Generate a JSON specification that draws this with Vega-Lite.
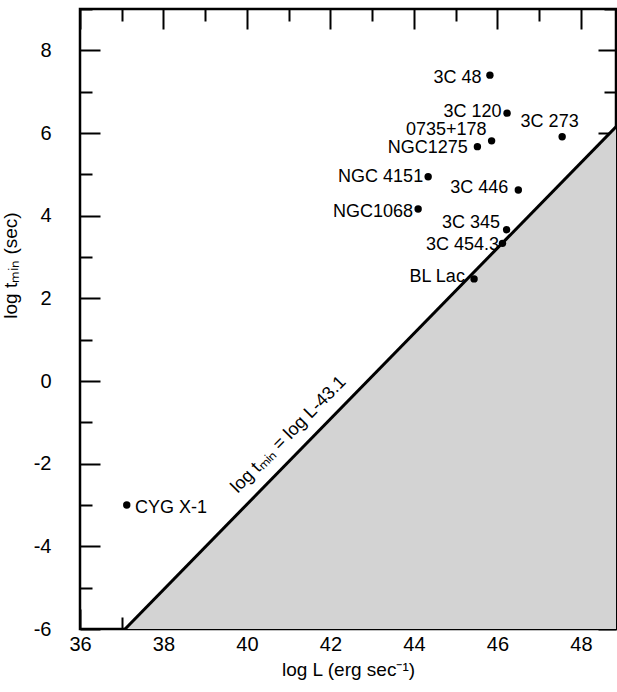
{
  "$schema": "https://vega.github.io/schema/vega-lite/v6.json",
  "width": 536,
  "height": 620,
  "autosize": "none",
  "padding": {"left": 80, "top": 9, "right": 1, "bottom": 63},
  "background": "white",
  "config": {
    "view": {"stroke": "black", "strokeWidth": 2.5},
    "font": "Liberation Sans"
  },
  "datasets": {
    "pts": [
      {"name": "3C 48", "L": 45.82, "t": 7.40},
      {"name": "3C 120", "L": 46.23, "t": 6.48},
      {"name": "3C 273", "L": 47.55, "t": 5.91},
      {"name": "0735+178", "L": 45.86, "t": 5.81},
      {"name": "NGC1275", "L": 45.52, "t": 5.67},
      {"name": "NGC 4151", "L": 44.34, "t": 4.94},
      {"name": "3C 446", "L": 46.50, "t": 4.62},
      {"name": "NGC1068", "L": 44.10, "t": 4.16},
      {"name": "3C 345", "L": 46.22, "t": 3.66},
      {"name": "3C 454.3", "L": 46.12, "t": 3.33},
      {"name": "BL Lac", "L": 45.44, "t": 2.47},
      {"name": "CYG X-1", "L": 37.12, "t": -3.0}
    ],
    "labels": [
      {"text": "3C 48", "lx": 45.62, "ly": 7.33, "pos": "right"},
      {"text": "3C 120", "lx": 46.10, "ly": 6.52, "pos": "right"},
      {"text": "3C 273", "lx": 47.25, "ly": 6.27, "pos": "center"},
      {"text": "0735+178", "lx": 45.74, "ly": 6.07, "pos": "right"},
      {"text": "NGC1275", "lx": 45.29, "ly": 5.64, "pos": "right"},
      {"text": "NGC 4151", "lx": 44.22, "ly": 4.94, "pos": "right"},
      {"text": "3C 446", "lx": 46.26, "ly": 4.66, "pos": "right"},
      {"text": "NGC1068", "lx": 43.98, "ly": 4.10, "pos": "right"},
      {"text": "3C 345", "lx": 46.06, "ly": 3.82, "pos": "right"},
      {"text": "3C 454.3", "lx": 46.04, "ly": 3.29, "pos": "right"},
      {"text": "BL Lac", "lx": 45.22, "ly": 2.52, "pos": "right"},
      {"text": "CYG X-1", "lx": 37.32, "ly": -3.08, "pos": "left"}
    ],
    "bound": [
      {"L": 37.08, "t": -6.0},
      {"L": 48.84, "t": 6.15}
    ],
    "linelabel": [
      {"text": "log tₘᵢₙ = log L-43.1", "lx": 41.0, "ly": -1.3}
    ]
  },
  "resolve": {"axis": {"x": "independent", "y": "independent"}},
  "layer": [
    {
      "data": {"name": "bound"},
      "mark": {"type": "area", "color": "#d3d3d3", "clip": true},
      "encoding": {
        "x": {
          "field": "L", "type": "quantitative",
          "scale": {"domain": [36, 48.84], "nice": false, "zero": false},
          "axis": {
            "orient": "bottom",
            "values": [36, 37, 38, 39, 40, 41, 42, 43, 44, 45, 46, 47, 48],
            "tickSize": {"condition": {"test": "datum.value % 2 === 0", "value": -20}, "value": -12},
            "labelExpr": "datum.value % 2 === 0 ? '' + datum.value : ''",
            "domain": false,
            "tickColor": "black", "tickWidth": 2,
            "labelFontSize": 20, "labelColor": "black", "labelPadding": 25,
            "labelFlush": false,
            "grid": false,
            "title": "log L (erg sec⁻¹)",
            "titleFontSize": 19, "titleFontWeight": "normal", "titleColor": "black",
            "titlePadding": 6
          }
        },
        "y": {
          "field": "t", "type": "quantitative",
          "scale": {"domain": [-6, 9], "nice": false, "zero": false},
          "axis": {
            "orient": "left",
            "values": [-6, -5, -4, -3, -2, -1, 0, 1, 2, 3, 4, 5, 6, 7, 8, 9],
            "tickSize": {"condition": {"test": "datum.value % 2 === 0", "value": -20}, "value": -12},
            "labelExpr": "datum.value % 2 === 0 ? '' + datum.value : ''",
            "domain": false,
            "tickColor": "black", "tickWidth": 2,
            "labelFontSize": 20, "labelColor": "black", "labelPadding": 49,
            "labelFlush": false,
            "grid": false,
            "title": "log tₘᵢₙ (sec)",
            "titleFontSize": 19, "titleFontWeight": "normal", "titleColor": "black",
            "titleY": 256, "titleX": -60
          }
        },
        "y2": {"datum": -6}
      }
    },
    {
      "data": {"name": "bound"},
      "mark": {"type": "line", "color": "black", "strokeWidth": 3, "clip": true},
      "encoding": {
        "x": {"field": "L", "type": "quantitative", "scale": {"domain": [36, 48.84], "nice": false, "zero": false}, "axis": null},
        "y": {"field": "t", "type": "quantitative", "scale": {"domain": [-6, 9], "nice": false, "zero": false}, "axis": null}
      }
    },
    {
      "data": {"name": "pts"},
      "mark": {"type": "point", "filled": true, "color": "black", "size": 55, "opacity": 1},
      "encoding": {
        "x": {
          "field": "L", "type": "quantitative",
          "scale": {"domain": [36, 48.84], "nice": false, "zero": false},
          "axis": {
            "orient": "top",
            "values": [36, 37, 38, 39, 40, 41, 42, 43, 44, 45, 46, 47, 48],
            "tickSize": {"condition": {"test": "datum.value % 2 === 0", "value": -20}, "value": -12},
            "labels": false, "domain": false, "grid": false, "title": null,
            "tickColor": "black", "tickWidth": 2
          }
        },
        "y": {
          "field": "t", "type": "quantitative",
          "scale": {"domain": [-6, 9], "nice": false, "zero": false},
          "axis": {
            "orient": "right",
            "values": [-6, -5, -4, -3, -2, -1, 0, 1, 2, 3, 4, 5, 6, 7, 8, 9],
            "tickSize": {"condition": {"test": "datum.value % 2 === 0", "value": -18}, "value": -12},
            "labels": false, "domain": false, "grid": false, "title": null,
            "tickColor": "black", "tickWidth": 2
          }
        }
      }
    },
    {
      "data": {"name": "labels"},
      "transform": [{"filter": "datum.pos === 'right'"}],
      "mark": {"type": "text", "align": "right", "baseline": "middle", "fontSize": 18, "color": "black"},
      "encoding": {
        "x": {"field": "lx", "type": "quantitative", "scale": {"domain": [36, 48.84], "nice": false, "zero": false}, "axis": null},
        "y": {"field": "ly", "type": "quantitative", "scale": {"domain": [-6, 9], "nice": false, "zero": false}, "axis": null},
        "text": {"field": "text"}
      }
    },
    {
      "data": {"name": "labels"},
      "transform": [{"filter": "datum.pos === 'center'"}],
      "mark": {"type": "text", "align": "center", "baseline": "middle", "fontSize": 18, "color": "black"},
      "encoding": {
        "x": {"field": "lx", "type": "quantitative", "scale": {"domain": [36, 48.84], "nice": false, "zero": false}, "axis": null},
        "y": {"field": "ly", "type": "quantitative", "scale": {"domain": [-6, 9], "nice": false, "zero": false}, "axis": null},
        "text": {"field": "text"}
      }
    },
    {
      "data": {"name": "labels"},
      "transform": [{"filter": "datum.pos === 'left'"}],
      "mark": {"type": "text", "align": "left", "baseline": "middle", "fontSize": 18, "color": "black"},
      "encoding": {
        "x": {"field": "lx", "type": "quantitative", "scale": {"domain": [36, 48.84], "nice": false, "zero": false}, "axis": null},
        "y": {"field": "ly", "type": "quantitative", "scale": {"domain": [-6, 9], "nice": false, "zero": false}, "axis": null},
        "text": {"field": "text"}
      }
    },
    {
      "data": {"name": "linelabel"},
      "mark": {"type": "text", "align": "center", "baseline": "middle", "fontSize": 18, "color": "black", "angle": 314.5},
      "encoding": {
        "x": {"field": "lx", "type": "quantitative", "scale": {"domain": [36, 48.84], "nice": false, "zero": false}, "axis": null},
        "y": {"field": "ly", "type": "quantitative", "scale": {"domain": [-6, 9], "nice": false, "zero": false}, "axis": null},
        "text": {"field": "text"}
      }
    }
  ]
}
